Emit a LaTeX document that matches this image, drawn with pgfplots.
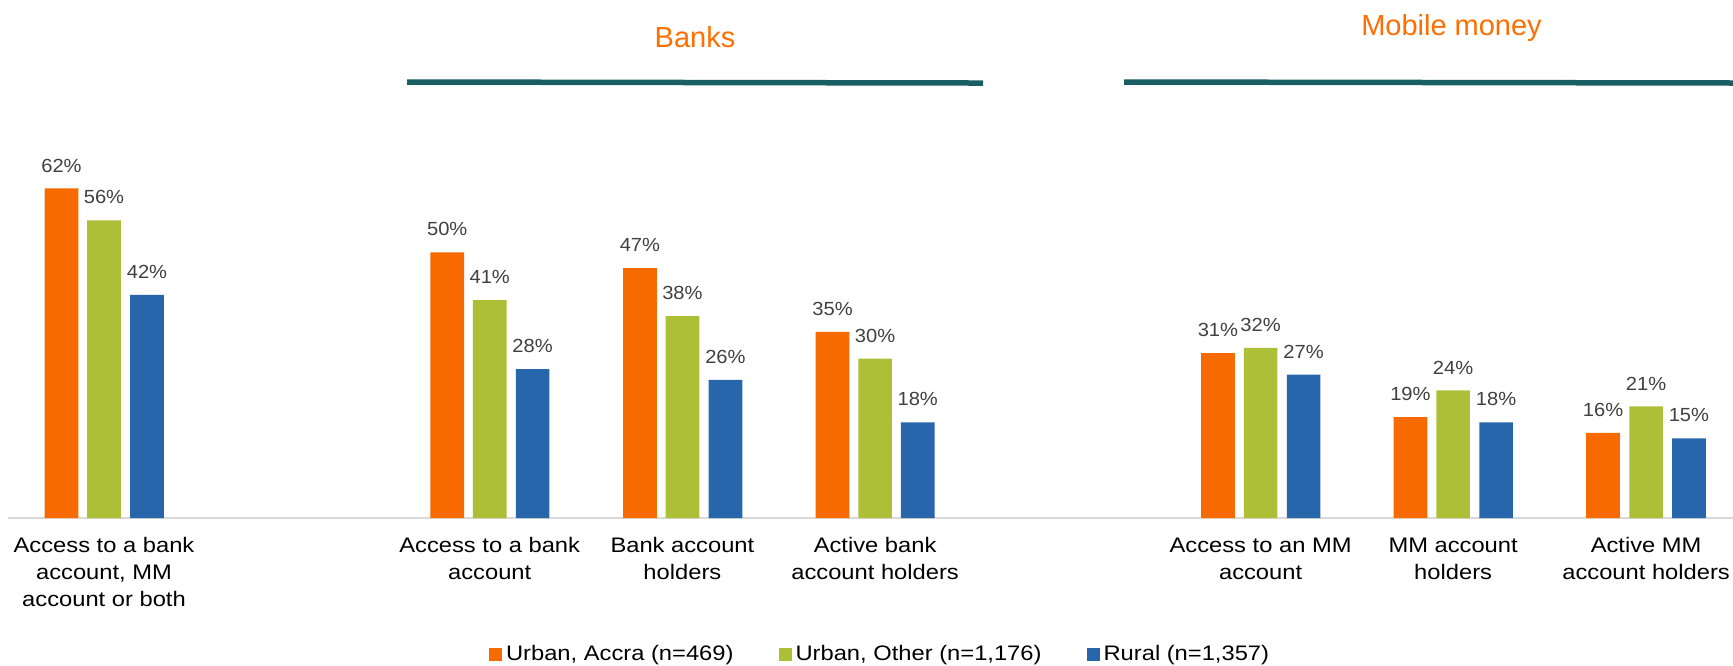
\documentclass[border=0pt]{standalone}
\usepackage{fontspec}
\setmainfont{Liberation Sans}
\newfontfamily\catfont[FakeStretch=1.13]{Liberation Sans}
\newfontfamily\valfont[FakeStretch=1.06]{Liberation Sans}
\newfontfamily\titlefont{Liberation Sans}
\usepackage{pgfplots}
\pgfplotsset{compat=1.18}
\definecolor{barorange}{RGB}{246,106,0}
\definecolor{bargreen}{RGB}{173,190,55}
\definecolor{barblue}{RGB}{40,102,172}
\definecolor{tealline}{RGB}{24,94,98}
\definecolor{titleorange}{RGB}{255,110,0}
\definecolor{axisgray}{RGB}{217,217,217}
\definecolor{labelgray}{RGB}{64,64,64}
\begin{document}
\begin{tikzpicture}
\begin{axis}[
  at={(0,0)}, anchor=south west,
  scale only axis, width=866.5pt, height=259pt,
  xmin=0, xmax=1733, ymin=0, ymax=97.46,
  axis x line=bottom, axis y line=left,
  x axis line style={draw=none,-}, y axis line style={draw=none,-},
  ytick=\empty,
  xtick={104,489.7,682.4,875.1,1260.6,1453.1,1646.1},
  xticklabels={{Access to a bank\\account, MM\\account or both},
               {Access to a bank\\account},
               {Bank account\\holders},
               {Active bank\\account holders},
               {Access to an MM\\account},
               {MM account\\holders},
               {Active MM\\account holders}},
  major tick length=0pt,
  xticklabel style={font=\catfont\fontsize{10.5}{13.5}\selectfont, align=center, yshift=-6.3pt, text=black},
  clip=false,
  /pgf/number format/assume math mode=true,
  nodes near coords={\pgfmathprintnumber{\pgfplotspointmeta}\%},
  nodes near coords style={font=\valfont\fontsize{9.5}{11}\selectfont, text=labelgray, yshift=4.6pt},
  legend columns=3,
  legend style={at={(0.2822,-0.2626)}, anchor=west, draw=none, fill=none,
    inner sep=0pt, outer sep=0pt,
    font=\catfont\fontsize{10.5}{13.5}\selectfont, text=black,
    nodes={inner xsep=2pt, inner ysep=1pt},
    /tikz/every even column/.append style={column sep=20.5pt}},
  legend cell align=left,
  legend image code/.code={\fill[#1] (0pt,-3.25pt) rectangle (6.5pt,3.25pt);},
]
\draw[axisgray, line width=1pt] (axis cs:8,0) -- (axis cs:1740,0);

\addplot[ybar, bar width=33.7, bar shift=0pt, fill=barorange, draw=none]
  coordinates {(61.5,62) (447.2,50) (639.9,47) (832.5,35) (1217.9,31) (1410.4,19) (1603,16)};
\addlegendentry{Urban, Accra (n=469)}
\addplot[ybar, bar width=33.7, bar shift=0pt, fill=bargreen, draw=none]
  coordinates {(104,56) (489.7,41) (682.4,38) (875.1,30) (1260.6,32) (1453.1,24) (1646.1,21)};
\addlegendentry{Urban, Other (n=1,176)}
\addplot[ybar, bar width=33.7, bar shift=0pt, fill=barblue, draw=none]
  coordinates {(147,42) (532.6,28) (725.4,26) (917.7,18) (1303.6,27) (1496.1,18) (1688.9,15)};
\addlegendentry{Rural (n=1,357)}

\node[font=\titlefont\fontsize{14.5}{17}\selectfont, text=titleorange, anchor=base] at (axis cs:695,88.43) {Banks};
\node[font=\titlefont\fontsize{14.5}{17}\selectfont, text=titleorange, anchor=base] at (axis cs:1451.5,90.87) {Mobile money};
\draw[tealline, line width=2.75pt] (axis cs:407,82.03) -- (axis cs:983,81.84);
\draw[tealline, line width=2.75pt] (axis cs:1124,82.03) -- (axis cs:1745,81.84);
\end{axis}
\pgfresetboundingbox
\useasboundingbox (0,-73.5pt) rectangle (866.5pt,259pt);
\end{tikzpicture}
\end{document}
